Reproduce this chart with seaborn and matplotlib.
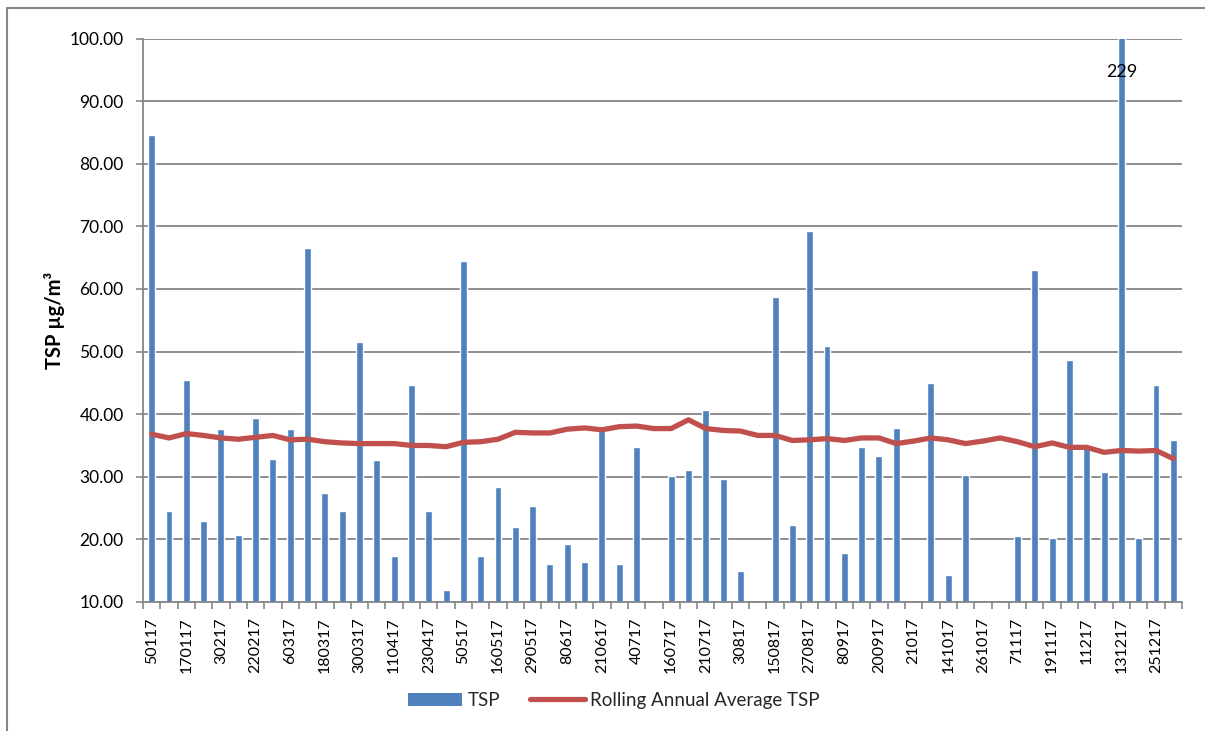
import numpy as np
import matplotlib
matplotlib.use("Agg")
import matplotlib.pyplot as plt
from matplotlib.lines import Line2D
from matplotlib.patches import Patch
import seaborn as sns

# Sampling dates (ddmmyy without leading zero)
dates = [
    "50117", "110117", "170117", "250117", "30217", "120217", "220217", "280217",
    "60317", "120317", "180317", "240317", "300317", "50417", "110417", "170417",
    "230417", "290417", "50517", "110517", "160517", "230517", "290517", "20617",
    "80617", "140617", "210617", "270617", "40717", "100717", "160717", "190717",
    "210717", "270717", "30817", "90817", "150817", "210817", "270817", "20917",
    "80917", "140917", "200917", "260917", "21017", "81017", "141017", "201017",
    "261017", "11117", "71117", "131117", "191117", "251117", "11217", "71217",
    "131217", "191217", "251217", "311217",
]

# Daily TSP concentrations (µg/m³); NaN = no sample
tsp = [
    84.6, 24.6, 45.5, 22.9, 37.7, 20.7, 39.4, 32.9, 37.6, 66.6,
    27.4, 24.5, 51.5, 32.7, 17.4, 44.6, 24.5, 11.9, 64.4, 17.4,
    28.4, 22.0, 25.4, 16.1, 19.3, 16.4, 37.6, 16.1, 34.7, 9.9,
    30.1, 31.1, 40.6, 29.7, 14.9, 9.9, 58.7, 22.3, 69.2, 50.9,
    17.8, 34.7, 33.3, 37.8, np.nan, 45.0, 14.3, 30.3, np.nan, 9.9,
    20.5, 63.0, 20.2, 48.6, 34.6, 30.7, 229.0, 20.2, 44.6, 35.8,
]

# Rolling annual average TSP
rolling_avg = [
    36.8, 36.2, 36.9, 36.6, 36.2, 36.0, 36.3, 36.6, 35.9, 36.0,
    35.6, 35.4, 35.3, 35.3, 35.3, 35.0, 35.0, 34.8, 35.5, 35.6,
    36.0, 37.1, 37.0, 37.0, 37.6, 37.8, 37.5, 38.0, 38.1, 37.7,
    37.7, 39.1, 37.7, 37.4, 37.3, 36.6, 36.6, 35.8, 35.9, 36.1,
    35.8, 36.2, 36.2, 35.3, 35.7, 36.2, 35.9, 35.3, 35.7, 36.2,
    35.6, 34.8, 35.4, 34.7, 34.7, 33.9, 34.2, 34.1, 34.2, 32.9,
]

y_ticks = [10, 20, 30, 40, 50, 60, 70, 80, 90, 100]
y_min, y_max = 10, 100

BAR_BLUE = "#4F81BD"
LINE_RED = "#C0504D"
GRID_GREY = "#868686"

sns.set_theme(style="white")
plt.rcParams["font.family"] = ["Lato", "DejaVu Sans"]

fig = plt.figure(figsize=(12.05, 7.31), dpi=100)
ax = fig.add_axes([0.1187, 0.1765, 0.8622, 0.7708])

pos = np.arange(len(dates))
sns.barplot(x=pos, y=tsp, color=BAR_BLUE, saturation=1, width=0.4,
            native_scale=False, ax=ax, zorder=2)
sns.lineplot(x=pos, y=rolling_avg, color=LINE_RED, linewidth=3.8,
             ax=ax, zorder=3, solid_capstyle="round", solid_joinstyle="round")

ax.set_xlim(-0.5, len(dates) - 0.5)
ax.set_ylim(y_min, y_max)

# Label the clipped peak with its actual value
for i, v in enumerate(tsp):
    if np.isfinite(v) and v > y_max:
        ax.text(i, 94.6, f"{v:.0f}", ha="center", va="center",
                fontsize=13, color="black", zorder=4)

# Horizontal gridlines
ax.set_yticks(y_ticks)
ax.set_yticklabels([f"{t:.2f}" for t in y_ticks])
ax.yaxis.grid(True, color=GRID_GREY, linewidth=1.3, zorder=0)
ax.set_axisbelow(True)
ax.tick_params(axis="y", which="major", length=5, width=1.2, color=GRID_GREY,
               direction="out", left=True, pad=9, labelsize=12.5, labelcolor="black")

# Category labels on every second sample, ticks between categories
ax.set_xticks(pos)
ax.set_xticklabels([d if i % 2 == 0 else "" for i, d in enumerate(dates)],
                   rotation=90, fontsize=11.5, color="black")
ax.tick_params(axis="x", which="major", length=0, pad=11)
ax.set_xticks(np.arange(len(dates) + 1) - 0.5, minor=True)
ax.tick_params(axis="x", which="minor", length=5, width=1.2, color=GRID_GREY,
               direction="out", bottom=True)
ax.set_xlabel("")

for side in ("top", "right"):
    ax.spines[side].set_visible(False)
for side in ("left", "bottom"):
    ax.spines[side].set_color(GRID_GREY)
    ax.spines[side].set_linewidth(1.3)

ax.set_ylabel("TSP µg/m³", fontsize=14.5, fontweight="bold", color="black", va="center")
ax.yaxis.set_label_coords(-0.085, 0.5)

handles = [
    Patch(facecolor=BAR_BLUE, edgecolor="none", label="TSP"),
    Line2D([0], [0], color=LINE_RED, linewidth=3.8, solid_capstyle="round",
           label="Rolling Annual Average TSP"),
]
fig.legend(handles=handles, loc="center", bbox_to_anchor=(0.5095, 0.042),
           ncol=2, frameon=False, fontsize=13.5, handlelength=2.9,
           handletextpad=0.3, columnspacing=1.6)

# Chart frame (top and left edges)
fig.add_artist(Line2D([7 / 1205, 7 / 1205], [0, 1 - 8 / 731], transform=fig.transFigure,
                      color=GRID_GREY, linewidth=1.5))
fig.add_artist(Line2D([7 / 1205, 1], [1 - 8 / 731, 1 - 8 / 731], transform=fig.transFigure,
                      color=GRID_GREY, linewidth=1.5))

fig.savefig("out.png", dpi=100, facecolor="white")
